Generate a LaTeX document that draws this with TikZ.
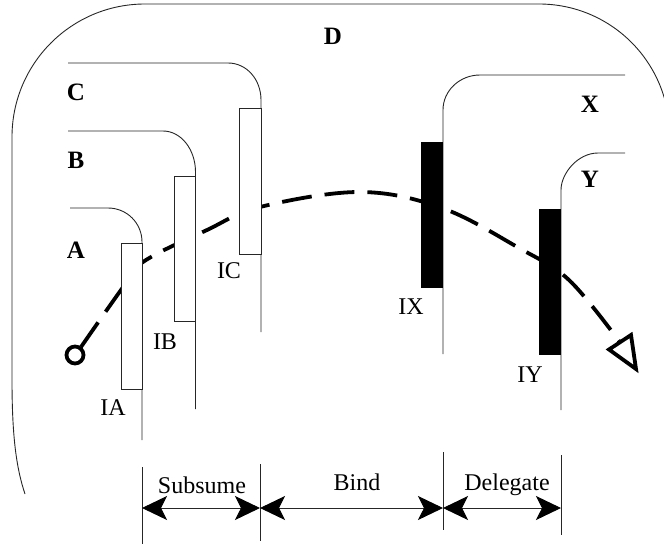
\documentclass[tikz,border=0pt]{standalone}
\usepackage{fontspec}
\setmainfont{Liberation Serif}
\usetikzlibrary{arrows.meta}
\begin{document}
\begin{tikzpicture}[x=1pt,y=-1pt,
  thinline/.style={line width=0.9pt, draw=black!85},
  ibox/.style={draw=black!85, line width=0.9pt, fill=white},
  fbox/.style={fill=black},
  bl/.style={font=\fontsize{25}{25}\selectfont\bfseries, anchor=base, inner sep=0pt},
  rl/.style={font=\fontsize{24}{24}\selectfont, anchor=base, inner sep=0pt},
  dimarrow/.style={line width=0.9pt, draw=black!85,
    {Stealth[length=25pt,width=24pt,inset=6pt,black]}-{Stealth[length=25pt,width=24pt,inset=6pt,black]}},
  flow/.style={line width=3.8pt, dash pattern=on 30pt off 13pt}
]
\useasboundingbox (0,0) rectangle (664,544);

% outer region D
\draw[thinline] (25,494) .. controls (17,470) and (12,440) .. (12,380) -- (12,137)
  .. controls (12,63.5) and (71.5,4) .. (145,4) -- (539,4)
  .. controls (611.1,4) and (669.5,62.4) .. (669.5,134.5);

% C
\draw[thinline] (68,63) -- (228,63) .. controls (246.8,63) and (261,79.6) .. (261,100) -- (261,332);
% B
\draw[thinline] (68,131) -- (163,131) .. controls (181,131) and (195.5,149.4) .. (195.5,172) -- (195.5,409);
% A
\draw[thinline] (70,208) -- (108,208) .. controls (126.8,208) and (142,223) .. (142,242) -- (142,440);
% X
\draw[thinline] (625,75) -- (480,75) .. controls (459.6,75) and (443,90.7) .. (443,110) -- (443,354);
% Y
\draw[thinline] (625,153) -- (598,153) .. controls (577.6,153) and (561,173.6) .. (561,190) -- (561,410);

% flow
\draw[flow] plot[smooth, tension=0.6] coordinates {(81,347) (121,290) (143,262) (207,230) (260,207) (360,192) (442,208) (519,248) (569,280) (619,341)};
\draw[line width=3.8pt] (75,355) circle[radius=8.5];
\draw[line width=3.8pt, line join=miter] (609,349.5) -- (631,335) -- (636,369) -- cycle;

% interface boxes
\draw[ibox] (121,243) rectangle (142,389);
\draw[ibox] (174,176) rectangle (195.5,321);
\draw[ibox] (239,108) rectangle (261,254);
\fill[fbox] (421,142) rectangle (443,288);
\fill[fbox] (539,209) rectangle (561,355);

% labels
\node[bl] (lD) at (333,44) {D};
\node[bl] (lC) at (76,100) {C};
\node[bl] (lB) at (76,168) {B};
\node[bl] (lA) at (76,258) {A};
\node[bl] (lX) at (590,112) {X};
\node[bl] (lY) at (590,187) {Y};
\node[rl] (lIA) at (113,415) {IA};
\node[rl] (lIB) at (165,349) {IB};
\node[rl] (lIC) at (229,278) {IC};
\node[rl] (lIX) at (411,314) {IX};
\node[rl] (lIY) at (530,382) {IY};

% dimension lines
\coordinate (t1) at (142,508);
\coordinate (t2) at (260,508);
\coordinate (t3) at (443,508);
\coordinate (t4) at (561,508);
\draw[thinline] (142,467) -- (142,544);
\draw[thinline] (260,464) -- (260,541);
\draw[thinline] (443,452) -- (443,530);
\draw[thinline] (561,455) -- (561,535);
\draw[dimarrow] (t1) -- (t2);
\draw[dimarrow] (t2) -- (t3);
\draw[dimarrow] (t3) -- (t4);
\node[rl] (lS) at (202,493) {Subsume};
\node[rl] (lBd) at (357,490) {Bind};
\node[rl] (lDl) at (507,490) {Delegate};
\end{tikzpicture}
\end{document}
